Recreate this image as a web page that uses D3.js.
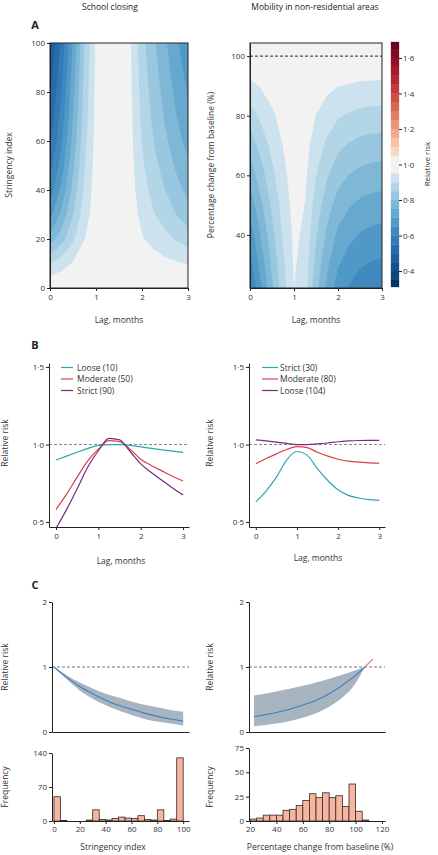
<!DOCTYPE html>
<html><head><meta charset="utf-8">
<script src="https://cdn.jsdelivr.net/npm/d3@7"></script>
<style>body{margin:0;background:#fff}svg{display:block}</style>
</head><body><svg id="c" width="438" height="855"></svg>
<script>
// ---------- DATA ----------
const lags = [0,0.25,0.5,0.75,1,1.25,1.5,1.75,2,2.25,2.5,2.75,3];
const lagTicks = [0,1,2,3];

// Panel A left: relative risk grid (rows = stringency, cols = lags)
const schoolStringency = [0,10,20,30,40,50,60,70,80,90,100];
const schoolRR = [
 [1,1,1,1,1,1,1,1,1,1,1,1,1],
 [0.900,0.927,0.955,0.979,0.994,1.004,1.004,0.994,0.982,0.973,0.964,0.956,0.948],
 [0.771,0.829,0.893,0.949,0.986,1.010,1.009,0.985,0.955,0.933,0.914,0.894,0.876],
 [0.684,0.761,0.848,0.927,0.980,1.015,1.013,0.977,0.935,0.904,0.877,0.849,0.823],
 [0.625,0.713,0.815,0.910,0.975,1.019,1.016,0.972,0.920,0.883,0.850,0.817,0.786],
 [0.580,0.675,0.789,0.897,0.971,1.022,1.019,0.968,0.908,0.866,0.828,0.791,0.757],
 [0.543,0.645,0.767,0.885,0.968,1.025,1.021,0.964,0.898,0.851,0.810,0.769,0.732],
 [0.514,0.620,0.749,0.875,0.965,1.027,1.023,0.961,0.889,0.838,0.794,0.751,0.712],
 [0.492,0.600,0.734,0.868,0.962,1.029,1.024,0.958,0.882,0.828,0.782,0.737,0.696],
 [0.470,0.581,0.720,0.860,0.960,1.031,1.026,0.956,0.875,0.819,0.770,0.723,0.680],
 [0.449,0.562,0.706,0.852,0.958,1.033,1.028,0.953,0.868,0.809,0.758,0.709,0.664]
];
const stringencyTicks = [0,20,40,60,80,100];

// Panel A right: relative risk grid (rows = mobility %, cols = lags)
const mobilityLevels = [20,30,40,50,60,70,80,90,100,110];
const mobilityRR = [
 [0.589,0.687,0.786,0.875,0.949,0.920,0.811,0.731,0.670,0.638,0.617,0.606,0.600],
 [0.629,0.720,0.810,0.890,0.955,0.930,0.833,0.760,0.704,0.675,0.655,0.645,0.640],
 [0.672,0.754,0.835,0.905,0.961,0.940,0.855,0.790,0.740,0.714,0.696,0.687,0.682],
 [0.718,0.791,0.860,0.920,0.968,0.949,0.877,0.822,0.778,0.755,0.739,0.731,0.727],
 [0.768,0.829,0.887,0.936,0.974,0.959,0.901,0.855,0.819,0.799,0.786,0.779,0.775],
 [0.820,0.869,0.914,0.951,0.981,0.969,0.925,0.889,0.861,0.845,0.834,0.829,0.826],
 [0.876,0.911,0.942,0.967,0.987,0.980,0.949,0.925,0.905,0.894,0.886,0.882,0.881],
 [0.936,0.954,0.970,0.984,0.994,0.990,0.974,0.962,0.951,0.946,0.941,0.939,0.938],
 [1,1,1,1,1,1,1,1,1,1,1,1,1],
 [1.068,1.048,1.030,1.017,1.007,1.010,1.026,1.040,1.051,1.058,1.062,1.065,1.066]
];
const mobilityTicks = [40,60,80,100];
const colorbarTicks = [0.4,0.6,0.8,1.0,1.2,1.4,1.6];
// contour band edges (white band spans 0.95–1.05)
const bandEdges = [0.25,0.30,0.35,0.40,0.45,0.50,0.55,0.60,0.65,0.70,0.75,0.80,0.85,0.90,0.95,
                   1.05,1.10,1.15,1.20,1.25,1.30,1.35,1.40,1.45,1.50,1.55,1.60,1.65,1.70];

// Panel B
const rrLagTicks = [0.5,1.0,1.5];
const schoolLoose = [0.900,0.925,0.950,0.975,0.994,1.000,1.000,0.995,0.985,0.975,0.965,0.957,0.950];
const schoolModerate = [0.580,0.680,0.790,0.895,0.970,1.025,1.018,0.970,0.905,0.865,0.830,0.795,0.765];
const schoolStrict = [0.460,0.580,0.715,0.855,0.960,1.040,1.030,0.955,0.875,0.820,0.770,0.720,0.675];
const schoolLegend = ["Loose (10)","Moderate (50)","Strict (90)"];
const mobilityStrict = [0.630,0.700,0.790,0.900,0.955,0.930,0.843,0.768,0.708,0.672,0.655,0.644,0.640];
const mobilityModerate = [0.876,0.910,0.940,0.968,0.987,0.980,0.950,0.925,0.905,0.893,0.886,0.882,0.880];
const mobilityLoose = [1.030,1.024,1.015,1.007,1.000,1.000,1.004,1.010,1.018,1.023,1.026,1.027,1.027];
const mobilityLegend = ["Strict (30)","Moderate (80)","Loose (104)"];

// Panel C
const cumStringencyX = [0,10,20,30,40,50,60,70,80,90,100];
const cumStringencyRR = [1,0.84,0.70,0.59,0.49,0.41,0.35,0.29,0.24,0.20,0.17];
const cumStringencyLow = [1,0.81,0.64,0.51,0.41,0.33,0.26,0.20,0.16,0.13,0.10];
const cumStringencyHigh = [1,0.87,0.76,0.67,0.59,0.53,0.47,0.42,0.38,0.34,0.31];
const cumMobilityX = [23,30,40,50,60,70,80,90,100,107];
const cumMobilityRR = [0.235,0.26,0.30,0.35,0.415,0.49,0.59,0.72,0.87,1.0];
const cumMobilityLow = [0.09,0.105,0.13,0.17,0.22,0.29,0.39,0.53,0.75,1.0];
const cumMobilityHigh = [0.56,0.585,0.625,0.665,0.71,0.76,0.82,0.88,0.95,1.0];
const cumMobilityAboveX = [107,110,113];
const cumMobilityAboveRR = [1.0,1.06,1.12];
const cumRRTicks = [0,1,2];

const stringencyBins = [0,5,10,15,20,25,30,35,40,45,50,55,60,65,70,75,80,85,90,95];
const stringencyFreq = [50,1,0,0,0,2,23,3,2,5,8,6,5,11,3,2,23,1,4,130];
const stringencyFreqTicks = [0,70,140];
const stringencyXTicks = [0,20,40,60,80,100];
const mobilityBins = [20,25,30,35,40,45,50,55,60,65,70,75,80,85,90,95,100,105];
const mobilityFreq = [2,3,6,6,6,11,12,16,21,28,24,29,24,26,15,38,10,1];
const mobilityFreqTicks = [0,25,50,75];
const mobilityXTicks = [20,40,60,80,100,120];

// ---------- STYLE ----------
const FONT = '"Open Sans", "Noto Sans", sans-serif';
const INK = '#222';
const TXT = '#333';
const lineColors = ['#2fa7b3','#d7424b','#7a2b7d'];
const dot = d => d3.format('.1f')(d).replace('.', '\u00B7');
const intf = d3.format('d');

const svg = d3.select('#c');
svg.append('rect').attr('width',438).attr('height',855).attr('fill','#fff');

function text(x, y, s, opts = {}) {
  const t = svg.append('text').attr('x', x).attr('y', y).text(s)
    .attr('font-family', FONT).attr('font-size', opts.size || 8.5)
    .attr('fill', opts.fill || TXT).attr('text-anchor', opts.anchor || 'middle');
  if (opts.weight) t.attr('font-weight', opts.weight);
  if (opts.rotate) t.attr('transform', `rotate(-90,${x},${y})`);
  return t;
}
function styleAxis(g) {
  g.attr('font-family', FONT).attr('font-size', 8);
  g.selectAll('path.domain').attr('stroke', INK);
  g.selectAll('.tick line').attr('stroke', INK);
  g.selectAll('.tick text').attr('fill', TXT);
}

// ---------- PANEL A ----------
const rrInterp = t => {
  const u = 2 * t - 1;
  if (Math.abs(u) < 1e-9) return '#f2f2f2';
  return d3.interpolateRdBu(0.5 + 0.5 * Math.sign(u) * Math.pow(Math.abs(u), 0.72));
};
const rrColor = d3.scaleDiverging(rrInterp).domain([1.69, 1.0, 0.31]);
const bandMid = v => { const i = bandEdges.indexOf(v); return +((v + bandEdges[i + 1]) / 2).toFixed(4); };

function contourPanel(id, grid, xs, ys, xScale, yScale) {
  const n = xs.length, m = ys.length;
  const values = grid.flat();
  const gx = d3.scaleLinear().domain([0.5, n - 0.5]).range([xs[0], xs[n - 1]]);
  const gy = d3.scaleLinear().domain([0.5, m - 0.5]).range([ys[0], ys[m - 1]]);
  const proj = d3.geoTransform({ point(px, py) { this.stream.point(xScale(gx(px)), yScale(gy(py))); } });
  const path = d3.geoPath(proj);
  const [x0, x1] = xScale.range(), [y1, y0] = yScale.range();
  svg.append('clipPath').attr('id', id).append('rect')
    .attr('x', x0).attr('y', y0).attr('width', x1 - x0).attr('height', y1 - y0);
  const polys = d3.contours().size([n, m]).thresholds(bandEdges.slice(0, -1))(values);
  svg.append('g').attr('clip-path', `url(#${id})`)
    .selectAll('path').data(polys).join('path')
    .attr('d', path).attr('fill', d => rrColor(bandMid(d.value))).attr('stroke', 'none');
}

const xA1 = d3.scaleLinear().domain([0, 3]).range([50, 188]);
const yA1 = d3.scaleLinear().domain([0, 100]).range([288, 43]);
const xA2 = d3.scaleLinear().domain([0, 3]).range([250, 382]);
const yA2 = d3.scaleLinear().domain([22.2, 104.4]).range([288, 43]);

contourPanel('clipA1', schoolRR, lags, schoolStringency, xA1, yA1);
contourPanel('clipA2', mobilityRR, lags, mobilityLevels, xA2, yA2);

svg.append('line').attr('x1', xA2.range()[0]).attr('x2', xA2.range()[1])
  .attr('y1', yA2(100)).attr('y2', yA2(100))
  .attr('stroke', '#111').attr('stroke-width', 0.9).attr('stroke-dasharray', '3,2');

[[xA1, yA1], [xA2, yA2]].forEach(([xs, ys]) => {
  svg.append('rect').attr('x', xs.range()[0]).attr('y', ys.range()[1])
    .attr('width', xs.range()[1] - xs.range()[0]).attr('height', ys.range()[0] - ys.range()[1])
    .attr('fill', 'none').attr('stroke', INK).attr('stroke-width', 1);
});
svg.append('g').attr('transform', `translate(0,${yA1.range()[0]})`)
  .call(d3.axisBottom(xA1).tickValues(lagTicks).tickFormat(intf).tickSize(3).tickSizeOuter(0).tickPadding(3)).call(styleAxis);
svg.append('g').attr('transform', `translate(${xA1.range()[0]},0)`)
  .call(d3.axisLeft(yA1).tickValues(stringencyTicks).tickFormat(intf).tickSize(3).tickSizeOuter(0).tickPadding(2)).call(styleAxis);
svg.append('g').attr('transform', `translate(0,${yA2.range()[0]})`)
  .call(d3.axisBottom(xA2).tickValues(lagTicks).tickFormat(intf).tickSize(3).tickSizeOuter(0).tickPadding(3)).call(styleAxis);
svg.append('g').attr('transform', `translate(${xA2.range()[0]},0)`)
  .call(d3.axisLeft(yA2).tickValues(mobilityTicks).tickFormat(intf).tickSize(3).tickSizeOuter(0).tickPadding(2)).call(styleAxis);

// colorbar
const yCB = d3.scaleLinear().domain([0.31, 1.69]).range([287, 42]);
const cbX = 391, cbW = 8;
const nextEdge = d => bandEdges[bandEdges.indexOf(d) + 1];
svg.append('g').selectAll('rect').data(bandEdges.slice(0, -1)).join('rect')
  .attr('x', cbX).attr('width', cbW)
  .attr('y', d => yCB(Math.min(nextEdge(d), 1.69)))
  .attr('height', d => Math.max(0, yCB(Math.max(d, 0.31)) - yCB(Math.min(nextEdge(d), 1.69))))
  .attr('fill', d => rrColor(bandMid(d))).attr('stroke', d => rrColor(bandMid(d))).attr('stroke-width', 0.3);
svg.append('g').attr('transform', `translate(${cbX + cbW},0)`)
  .call(d3.axisRight(yCB).tickValues(colorbarTicks).tickFormat(dot).tickSize(3).tickSizeOuter(0).tickPadding(1))
  .call(styleAxis).call(g => g.select('path.domain').remove());
text(430, 164, 'Relative risk', { rotate: true, size: 8 });

text(110, 10, 'School closing', { size: 8.5, fill: '#222' });
text(315, 10, 'Mobility in non-residential areas', { size: 8.5, fill: '#222' });
text(35, 29, 'A', { size: 11, weight: 'bold', fill: '#222' });
text(12, 165, 'Stringency index', { rotate: true });
text(214, 165, 'Percentage change from baseline (%)', { rotate: true });
text(119, 323, 'Lag, months');
text(316, 323, 'Lag, months');

// ---------- PANEL B ----------
function lagPanel(xRange, series, names, legendX, lineX) {
  const x = d3.scaleLinear().domain([-0.165, 3.14]).range(xRange);
  const y = d3.scaleLinear().domain([0.468, 1.526]).range([527, 363]);
  svg.append('line').attr('x1', xRange[0]).attr('x2', xRange[1]).attr('y1', y(1)).attr('y2', y(1))
    .attr('stroke', '#777').attr('stroke-width', 0.9).attr('stroke-dasharray', '3,2');
  const line = d3.line().x((d, i) => x(lags[i])).y(d => y(d)).curve(d3.curveMonotoneX);
  series.forEach((s, k) => {
    svg.append('path').attr('d', line(s)).attr('fill', 'none')
      .attr('stroke', lineColors[k]).attr('stroke-width', 1.2);
  });
  svg.append('g').attr('transform', `translate(0,${y.range()[0]})`)
    .call(d3.axisBottom(x).tickValues(lagTicks).tickFormat(intf).tickSize(3).tickSizeOuter(0).tickPadding(3)).call(styleAxis);
  svg.append('g').attr('transform', `translate(${xRange[0]},0)`)
    .call(d3.axisLeft(y).tickValues(rrLagTicks).tickFormat(dot).tickSize(3).tickSizeOuter(0).tickPadding(2)).call(styleAxis);
  const ly = [367.5, 379, 390.5];
  names.forEach((nm, k) => {
    svg.append('line').attr('x1', lineX[0]).attr('x2', lineX[1]).attr('y1', ly[k]).attr('y2', ly[k])
      .attr('stroke', lineColors[k]).attr('stroke-width', 1.2);
    text(legendX, ly[k] + 3, nm, { anchor: 'start', size: 8.5 });
  });
  return x;
}
lagPanel([49, 189], [schoolLoose, schoolModerate, schoolStrict], schoolLegend, 77, [61, 73]);
lagPanel([249, 385], [mobilityStrict, mobilityModerate, mobilityLoose], mobilityLegend, 280, [262, 278]);
text(35, 349, 'B', { size: 11, weight: 'bold', fill: '#222' });
text(8, 443, 'Relative risk', { rotate: true });
text(213, 443, 'Relative risk', { rotate: true });
text(121, 564, 'Lag, months');
text(318, 561, 'Lag, months');

// ---------- PANEL C ----------
function cumPanel(x, xs, mean, lo, hi) {
  const y = d3.scaleLinear().domain([0, 2]).range([732, 602]);
  const [r0, r1] = x.range();
  svg.append('path').datum(xs.map((v, i) => [v, lo[i], hi[i]]))
    .attr('d', d3.area().x(d => x(d[0])).y0(d => y(d[1])).y1(d => y(d[2])).curve(d3.curveMonotoneX))
    .attr('fill', '#a9b4c1');
  svg.append('line').attr('x1', r0).attr('x2', r1).attr('y1', y(1)).attr('y2', y(1))
    .attr('stroke', '#666').attr('stroke-width', 0.9).attr('stroke-dasharray', '3,2');
  svg.append('path').datum(xs.map((v, i) => [v, mean[i]]))
    .attr('d', d3.line().x(d => x(d[0])).y(d => y(d[1])).curve(d3.curveMonotoneX))
    .attr('fill', 'none').attr('stroke', '#3c7fc0').attr('stroke-width', 1.1);
  svg.append('g').attr('transform', `translate(0,${y.range()[0]})`)
    .call(d3.axisBottom(x).tickValues([]).tickSize(0).tickSizeOuter(0)).call(styleAxis);
  svg.append('g').attr('transform', `translate(${r0},0)`)
    .call(d3.axisLeft(y).tickValues(cumRRTicks).tickFormat(intf).tickSize(3).tickSizeOuter(0).tickPadding(2)).call(styleAxis);
  return y;
}
function histPanel(x, bins, freq, yDomain, yTop, ticks, xticks) {
  const y = d3.scaleLinear().domain(yDomain).range([821, yTop]);
  svg.append('g').selectAll('rect').data(bins).join('rect')
    .attr('x', d => x(d)).attr('width', d => x(d + 5) - x(d))
    .attr('y', (d, i) => y(freq[i])).attr('height', (d, i) => y(0) - y(freq[i]))
    .attr('fill', '#f5b6a0').attr('stroke', '#3a2626').attr('stroke-width', 0.8);
  svg.append('g').attr('transform', `translate(0,${y(0)})`)
    .call(d3.axisBottom(x).tickValues(xticks).tickFormat(intf).tickSize(3).tickSizeOuter(0).tickPadding(2)).call(styleAxis);
  svg.append('g').attr('transform', `translate(${x.range()[0]},0)`)
    .call(d3.axisLeft(y).tickValues(ticks).tickFormat(intf).tickSize(3).tickSizeOuter(0).tickPadding(2)).call(styleAxis);
}
const xC1 = d3.scaleLinear().domain([-1.5, 104.5]).range([52, 189]);
const xC2 = d3.scaleLinear().domain([19.2, 122.3]).range([249, 385]);
cumPanel(xC1, cumStringencyX, cumStringencyRR, cumStringencyLow, cumStringencyHigh);
const yC2 = cumPanel(xC2, cumMobilityX, cumMobilityRR, cumMobilityLow, cumMobilityHigh);
svg.append('path').datum(cumMobilityAboveX.map((v, i) => [v, cumMobilityAboveRR[i]]))
  .attr('d', d3.line().x(d => xC2(d[0])).y(d => yC2(d[1])))
  .attr('fill', 'none').attr('stroke', '#e07c86').attr('stroke-width', 1.3);
histPanel(xC1, stringencyBins, stringencyFreq, [0, 140], 753, stringencyFreqTicks, stringencyXTicks);
histPanel(xC2, mobilityBins, mobilityFreq, [0, 75], 748, mobilityFreqTicks, mobilityXTicks);

text(35, 589, 'C', { size: 11, weight: 'bold', fill: '#222' });
text(8, 667, 'Relative risk', { rotate: true });
text(213, 667, 'Relative risk', { rotate: true });
text(8, 787, 'Frequency', { rotate: true });
text(213, 787, 'Frequency', { rotate: true });
text(113, 850, 'Stringency index');
text(320, 850, 'Percentage change from baseline (%)');
</script></body></html>
